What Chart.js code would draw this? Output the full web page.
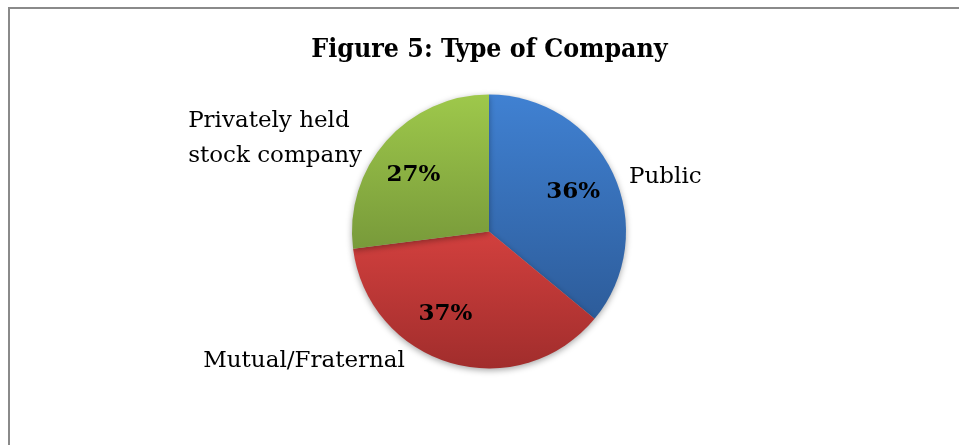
<!DOCTYPE html>
<html>
<head>
<meta charset="utf-8">
<script src="https://cdn.jsdelivr.net/npm/chart.js@4.4.0/dist/chart.umd.min.js"></script>
<style>
html,body{margin:0;padding:0;background:#fff;}
#wrap{position:relative;width:959px;height:445px;}
</style>
</head>
<body>
<div id="wrap"><canvas id="c" width="959" height="445"></canvas></div>
<script>
const titleText = "Figure 5: Type of Company";
const categories = ["Public", "Mutual/Fraternal", "Privately held\nstock company"];
const values = [36, 37, 27];
const percentLabels = ["36%", "37%", "27%"];

const gradTop = ["#4081d2", "#d2403e", "#9ec84b"];
const gradBottom = ["#2d5c9a", "#a12d2c", "#789a3a"];

// label placement style: [angle from top (deg), radius factor]
const pctPlace = [[64.3, 0.681], [208.1, 0.674], [307.5, 0.695]];
// category label anchor: [angle, radius factor, side]
const catPlace = [[71.0, 1.081, 'left'], [211.9, 1.162, 'right'], [309.5, 1.202, 'right']];

const serif = '"DejaVu Serif", "Liberation Serif", serif';
const serifCond = '"DejaVu Serif Condensed", "DejaVu Serif", serif';

const gradientPlugin = {
  id: 'sliceGradient',
  beforeDatasetsDraw(chart) {
    const ctx = chart.ctx;
    const meta = chart.getDatasetMeta(0);
    meta.data.forEach((arc, i) => {
      const p = arc.getProps(['x','y','startAngle','endAngle','outerRadius']);
      const ys = [p.y];
      const steps = 40;
      for (let s = 0; s <= steps; s++) {
        const a = p.startAngle + (p.endAngle - p.startAngle) * s / steps;
        ys.push(p.y + p.outerRadius * Math.sin(a));
      }
      const y0 = Math.min(...ys), y1 = Math.max(...ys);
      const g = ctx.createLinearGradient(0, y0, 0, y1);
      g.addColorStop(0, gradTop[i]);
      g.addColorStop(1, gradBottom[i]);
      arc.options.backgroundColor = g;
    });
    ctx.save();
    ctx.shadowColor = 'rgba(0,0,0,0.35)';
    ctx.shadowBlur = 6;
    ctx.shadowOffsetY = 2;
  },
  afterDatasetsDraw(chart) {
    chart.ctx.restore();
  }
};

function anchor(p, deg, f) {
  const a = deg * Math.PI / 180;
  return [p.x + p.outerRadius * f * Math.sin(a), p.y - p.outerRadius * f * Math.cos(a)];
}

const decorPlugin = {
  id: 'decor',
  beforeDraw(chart) {
    const ctx = chart.ctx;
    ctx.save();
    ctx.fillStyle = '#fff';
    ctx.fillRect(0, 0, chart.width, chart.height);
    ctx.fillStyle = '#8a8a8a';
    ctx.fillRect(8, 7, chart.width - 8, 2);
    ctx.fillRect(8, 7, 2, chart.height - 7);
    ctx.restore();
  },
  afterDraw(chart) {
    const ctx = chart.ctx;
    const meta = chart.getDatasetMeta(0);
    ctx.save();
    ctx.fillStyle = '#000';
    // title
    ctx.font = 'bold 26.5px ' + serifCond;
    ctx.textAlign = 'center';
    ctx.textBaseline = 'alphabetic';
    ctx.fillText(titleText, 489.5, 56.7);
    // percent labels
    ctx.font = 'bold 23px ' + serif;
    ctx.textBaseline = 'middle';
    meta.data.forEach((arc, i) => {
      const p = arc.getProps(['x','y','startAngle','endAngle','outerRadius']);
      const [x, y] = anchor(p, pctPlace[i][0], pctPlace[i][1]);
      ctx.fillText(percentLabels[i], x, y + 1);
    });
    // category labels
    ctx.font = '23px ' + serif;
    ctx.textBaseline = 'alphabetic';
    ctx.textAlign = 'left';
    meta.data.forEach((arc, i) => {
      const p = arc.getProps(['x','y','startAngle','endAngle','outerRadius']);
      const [x, y] = anchor(p, catPlace[i][0], catPlace[i][1]);
      const lines = categories[i].split('\n');
      const w = Math.max(...lines.map(l => ctx.measureText(l).width));
      const left = catPlace[i][2] === 'left' ? x : x - w;
      lines.forEach((l, k) => ctx.fillText(l, left, y + 35 * k));
    });
    ctx.restore();
  }
};

new Chart(document.getElementById('c'), {
  type: 'pie',
  data: {
    labels: categories,
    datasets: [{
      data: values,
      backgroundColor: gradTop,
      borderWidth: 0
    }]
  },
  options: {
    responsive: false,
    animation: false,
    layout: { padding: { left: 100, right: 81, top: 94.5, bottom: 76.5 } },
    plugins: { legend: { display: false }, tooltip: { enabled: false }, title: { display: false } }
  },
  plugins: [decorPlugin, gradientPlugin]
});
</script>
</body>
</html>
